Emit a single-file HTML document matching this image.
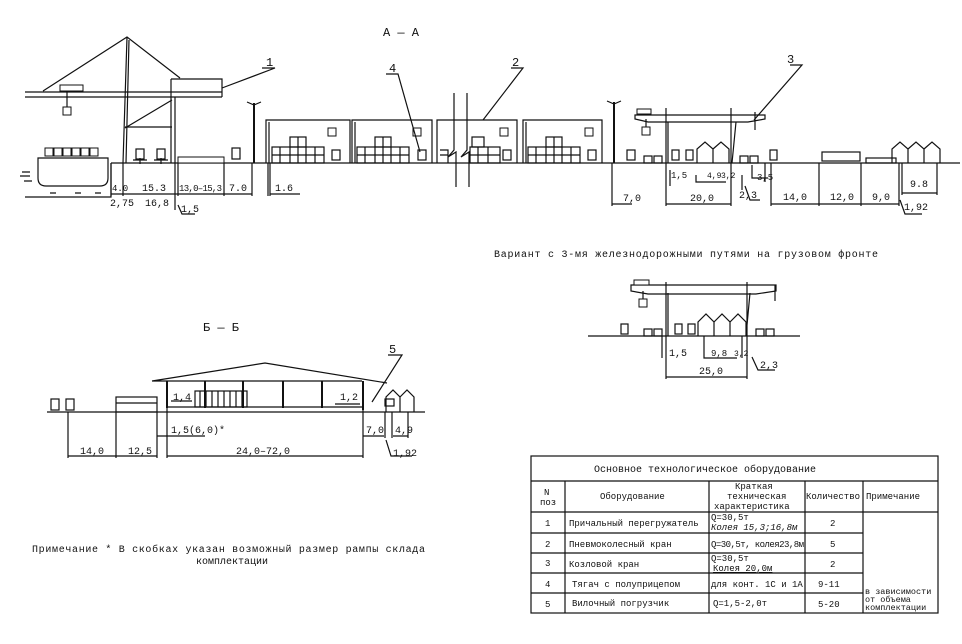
<!DOCTYPE html>
<html><head><meta charset="utf-8"><style>
html,body{margin:0;padding:0;background:#fff;}
svg{display:block;}
text{font-family:"Liberation Mono","DejaVu Sans Mono",monospace;fill:#111;}
.s{stroke:#111;fill:none;stroke-width:1.2;}
.t{stroke:#111;fill:none;stroke-width:2;}
.f{stroke:#111;fill:#fff;stroke-width:1;}
.d{font-size:10px;}
.tb{font-size:9px;}
</style></head><body>
<svg width="962" height="644" viewBox="0 0 962 644" xmlns="http://www.w3.org/2000/svg">
<text x="383" y="36" font-size="12">А — А</text>

<path class="s" d="M111 163 H960"/>
<path class="s" d="M38 158 H108 V178 Q108 186 100 186 H46 Q38 186 38 178 Z"/>
<g class="f"><rect x="45" y="148" width="8" height="8"/><rect x="54" y="148" width="8" height="8"/><rect x="63" y="148" width="8" height="8"/><rect x="72" y="148" width="8" height="8"/><rect x="81" y="148" width="8" height="8"/><rect x="90" y="148" width="8" height="8"/></g>
<path class="s" d="M22 172 h8 M20 176 h10 M24 181 h8 M50 193 h6 M75 193 h6 M95 193 h6"/>
<path class="s" d="M25 197 H111 V163"/>
<path class="s" d="M25 92 H222 M25 97 H222 M43 91 L127 37 L180 78 M127 37 L123 163 M129 40 L126 163 M171 79 H222 V97 M171 79 V163 M175 97 V163 M125 127 H172 M125 128 L172 100"/>
<rect class="f" x="60" y="85" width="23" height="6"/>
<path class="s" d="M67 91 V107"/><rect class="f" x="63" y="107" width="8" height="8"/>
<g class="s"><rect x="136" y="149" width="8" height="10"/><rect x="157" y="149" width="8" height="10"/><rect x="232" y="148" width="8" height="11"/><path d="M133 160h14M154 160h14M140 158v6M161 158v6"/></g>
<rect class="f" x="178" y="157" width="46" height="6"/>
<path class="t" d="M254 103 V163"/><path class="s" d="M247 102 L254 105 L261 102"/>
<path class="s" d="M266 163 V120 H350 V163 M269 163 V122 M352 163 V120 H432 V163 M355 163 V122 M437 163 V120 H517 V163 M523 163 V120 H602 V163 M526 163 V122"/>
<g class="f"><rect x="328" y="128" width="8" height="8"/><rect x="413" y="128" width="8" height="8"/><rect x="500" y="128" width="8" height="8"/><rect x="585" y="128" width="8" height="8"/></g>
<g class="s" stroke-width="0.9">
<rect x="272" y="147" width="52" height="16"/><rect x="290" y="137" width="16" height="10"/><path d="M280 147v16M290 147v16M298 137v26M306 147v16M315 147v16M272 155h52"/>
<rect x="357" y="147" width="52" height="16"/><rect x="375" y="137" width="16" height="10"/><path d="M365 147v16M375 147v16M383 137v26M391 147v16M400 147v16M357 155h52"/>
<rect x="470" y="147" width="30" height="16"/><rect x="472" y="137" width="12" height="10"/><path d="M478 147v16M488 147v16M470 155h30M440 150h8v13M440 155h8"/>
<rect x="528" y="147" width="52" height="16"/><rect x="546" y="137" width="16" height="10"/><path d="M536 147v16M546 147v16M554 137v26M562 147v16M571 147v16M528 155h52"/>
</g>
<g class="s"><rect x="332" y="150" width="8" height="10"/><rect x="418" y="150" width="8" height="10"/><rect x="503" y="150" width="8" height="10"/><rect x="588" y="150" width="8" height="10"/><rect x="627" y="150" width="8" height="10"/></g>
<path class="s" fill="#fff" d="M454 93 V150 L448 157 L456 152 V187 M467 93 V150 L461 157 L469 152 V187"/>
<path class="t" d="M614 102 V163"/><path class="s" d="M607 101 L614 104 L621 101"/>
<path class="s" d="M635 115 H765 V119 L748 122 H648 L635 119 Z M666 108 V163 M668 122 V163 M731 108 V163 M736 122 L732 163 M755 112 V130"/>
<rect class="f" x="637" y="109" width="14" height="5"/><path class="s" d="M646 119 V127"/><rect class="f" x="642" y="127" width="8" height="8"/>
<g class="s"><rect x="644" y="156" width="8" height="7"/><rect x="654" y="156" width="8" height="7"/><rect x="672" y="150" width="7" height="10"/><rect x="686" y="150" width="7" height="10"/><rect x="740" y="156" width="8" height="7"/><rect x="750" y="156" width="8" height="7"/><rect x="770" y="150" width="7" height="10"/>
<path d="M697 163V149L705 142L713 149V163M713 149L721 142L729 149V163"/>
<rect x="822" y="152" width="38" height="9"/><rect x="866" y="158" width="30" height="5"/>
<path d="M892 163V149L900 142L908 149V163M908 149L916 142L924 149V163M924 149L932 142L940 149V163"/></g>
<g class="s" stroke-width="0.9">
<path d="M111 163V196M123 163V196M175 163V210M178 163V196M224 163V196M252 163V196M268 163V196M270 163V196M111 194H252M270 194H300"/>
<path d="M612 163V206M666 163V206M731 163V206M612 204H632M666 204H731M670 170V186M696 175V182H726M742 175V190M752 165V178H768M765 163V182M771 163V206M819 163V206M861 163V206M899 163V206M902 163V195M937 163V195M771 204H899M902 193H937"/>
<path d="M178 205L182 214H195M745 186L750 200H760M900 200L905 214H922"/>
</g>
<g class="d">
<text x="112" y="191" font-size="9">4.0</text><text x="142" y="191">15.3</text><text x="179" y="191" textLength="43" font-size="9">13,0–15,3</text><text x="229" y="191">7.0</text><text x="275" y="191">1.6</text>
<text x="110" y="206">2,75</text><text x="145" y="206">16,8</text><text x="181" y="212">1,5</text>
<text x="623" y="201">7,0</text><text x="690" y="201">20,0</text><text x="671" y="178" font-size="9">1,5</text><text x="707" y="178" font-size="8">4,9</text><text x="721" y="178" font-size="8">3,2</text><text x="757" y="180" font-size="9">3,5</text><text x="739" y="198">2,3</text>
<text x="783" y="200">14,0</text><text x="830" y="200">12,0</text><text x="872" y="200">9,0</text><text x="910" y="187">9.8</text><text x="904" y="210">1,92</text>
</g>
<path class="s" stroke-width="0.9" d="M262 68H275L222 88M386 74H398L420 152M511 68H523L483 120M790 65H802L754 120"/>
<text x="266" y="66" font-size="12">1</text><text x="389" y="72" font-size="12">4</text><text x="512" y="66" font-size="12">2</text><text x="787" y="63" font-size="12">3</text>

<text x="494" y="257" font-size="10" textLength="384">Вариант с 3-мя железнодорожными путями на грузовом фронте</text>

<path class="s" d="M588 336 H800"/>
<path class="s" d="M631 285 H776 V291 L756 294 H648 L631 291 Z M666 282 V336 M668 293 V336 M747 282 V336 M750 293 L746 336 M775 285 V301"/>
<rect class="f" x="634" y="280" width="15" height="5"/><path class="s" d="M643 291 V299"/><rect class="f" x="639" y="299" width="8" height="8"/>
<g class="s"><rect x="621" y="324" width="7" height="10"/><rect x="644" y="329" width="8" height="7"/><rect x="654" y="329" width="8" height="7"/><rect x="675" y="324" width="7" height="10"/><rect x="688" y="324" width="7" height="10"/><rect x="756" y="329" width="8" height="7"/><rect x="766" y="329" width="8" height="7"/>
<path d="M698 336V322L706 314L714 322V336M714 322L722 314L730 322V336M730 322L738 314L746 322V336"/></g>
<g class="s" stroke-width="0.9"><path d="M662 336V358M666 336V379M747 336V379M704 336V358H737M742 336V358M666 377H747M752 357L758 370H775"/></g>
<g class="d"><text x="669" y="356">1,5</text><text x="711" y="356" font-size="9">9,8</text><text x="734" y="356" font-size="8">3,2</text><text x="760" y="368">2,3</text><text x="699" y="374">25,0</text></g>

<text x="203" y="331" font-size="12">Б — Б</text>
<path class="s" d="M47 412 H425"/>
<path class="s" d="M152 381 L265 363 L387 383 M152 381 H362"/>
<path class="t" d="M167 381 V408 M205 381 V408 M243 381 V408 M283 381 V408 M322 381 V408 M363 381 V410"/>
<path class="s" d="M167 407 H363"/>
<g class="s" stroke-width="0.8"><rect x="195" y="391" width="52" height="16"/><path d="M200 391v16M206 391v16M212 391v16M218 391v16M224 391v16M230 391v16M236 391v16M242 391v16"/></g>
<g class="s"><rect x="51" y="399" width="8" height="11"/><rect x="66" y="399" width="8" height="11"/><rect x="116" y="397" width="41" height="15"/><path d="M116 403H157"/><rect x="385" y="399" width="9" height="7"/>
<path d="M386 412V397L393 390L400 397V412M400 397L407 390L414 397V412"/></g>
<g class="s" stroke-width="0.9"><path d="M68 412V458M116 412V458M157 412V458M167 408V458M363 410V458M363 436H384M157 436H205M385 412V438M392 412V438M408 412V438M68 456H157M167 456H363M393 436H408M386 440L391 456H412M171 401H192M335 404H360"/></g>
<g class="d"><text x="80" y="454">14,0</text><text x="128" y="454">12,5</text><text x="236" y="454">24,0–72,0</text><text x="366" y="433">7,0</text><text x="395" y="433">4,9</text><text x="393" y="456">1,92</text><text x="171" y="433">1,5(6,0)*</text><text x="173" y="400">1,4</text><text x="340" y="400">1,2</text></g>
<path class="s" stroke-width="0.9" d="M388 355H402L372 402"/><text x="389" y="353" font-size="12">5</text>

<text x="32" y="552" font-size="10" textLength="393">Примечание * В скобках указан возможный размер рампы склада</text>
<text x="196" y="564" font-size="10">комплектации</text>

<g class="s" stroke-width="1.2">
<rect x="531" y="456" width="407" height="157"/>
<path d="M531 481H938M531 512H938M531 533H863M531 553H863M531 573H863M531 593H863M565 481V613M709 481V613M805 481V613M863 481V613"/>
</g>
<g class="tb">
<text x="594" y="472" font-size="10">Основное технологическое оборудование</text>
<text x="544" y="495">N</text><text x="540" y="505">поз</text>
<text x="600" y="499">Оборудование</text>
<text x="735" y="489">Краткая</text><text x="727" y="499">техническая</text><text x="714" y="509">характеристика</text>
<text x="806" y="499">Количество</text><text x="866" y="499">Примечание</text>
<text x="545" y="526">1</text><text x="569" y="526">Причальный перегружатель</text><text x="711" y="520">Q=30,5т</text><text x="711" y="530" font-style="italic">Колея 15,3;16,8м</text><text x="830" y="526">2</text>
<text x="545" y="547">2</text><text x="569" y="547">Пневмоколесный кран</text><text x="711" y="547" textLength="93">Q=30,5т, колея23,8м</text><text x="830" y="547">5</text>
<text x="545" y="566">3</text><text x="569" y="567">Козловой кран</text><text x="711" y="561">Q=30,5т</text><text x="713" y="571" text-decoration="underline">Колея 20,0м</text><text x="830" y="567">2</text>
<text x="545" y="587">4</text><text x="572" y="587">Тягач с полуприцепом</text><text x="711" y="587">для конт. 1С и 1А</text><text x="818" y="587">9-11</text>
<text x="545" y="607">5</text><text x="572" y="606">Вилочный погрузчик</text><text x="713" y="606">Q=1,5-2,0т</text><text x="818" y="607">5-20</text>
<text x="865" y="594" font-size="8.5">в зависимости</text><text x="865" y="602" font-size="8.5">от объема</text><text x="865" y="610" font-size="8.5">комплектации</text>
</g>
</svg>
</body></html>
